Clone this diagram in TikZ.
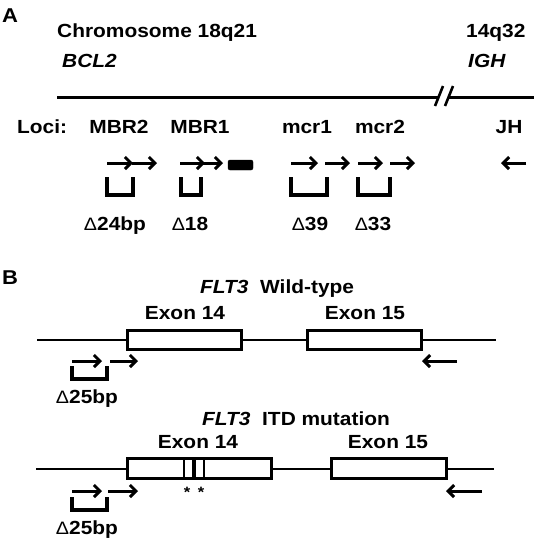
\documentclass[tikz,border=0pt]{standalone}
\usepackage{fontspec}
\setmainfont{Liberation Sans}[FakeStretch=1.1]
\usetikzlibrary{arrows.meta}
\tikzset{
  lbl/.style={font=\fontsize{19}{21}\selectfont\bfseries, inner sep=0pt, anchor=base},
  ilbl/.style={font=\fontsize{19}{21}\selectfont\bfseries\itshape, inner sep=0pt, anchor=base},
  panel/.style={font=\fontsize{20}{22}\selectfont\bfseries, inner sep=0pt, anchor=base west},
  dlbl/.style={font=\fontsize{19}{21}\selectfont\bfseries, inner sep=0pt, anchor=base},
  chrom/.style={line width=3pt},
  primer/.style={line width=3pt, -{Straight Barb[length=6pt,width=12pt]}},
  brk/.style={line width=4pt, line join=miter},
  exon/.style={draw, line width=3pt, fill=white},
  star/.style={font=\fontsize{15}{15}\selectfont\bfseries, inner sep=0pt}
}
\newcommand{\dl}{{\mdseries\fontsize{18}{21}\selectfont\symbol{"0394}}}
\begin{document}
\begin{tikzpicture}[x=1pt,y=-1pt]
\useasboundingbox (0,0) rectangle (538,542);
% ---------- Panel A ----------
\node[panel] (A) at (2,22) {A};
\node[lbl, anchor=base west] (chr) at (57,37) {Chromosome 18q21};
\node[lbl, anchor=base west] (c14) at (466,37) {14q32};
\node[ilbl, anchor=base west] (bcl) at (62,67) {BCL2};
\node[ilbl, anchor=base west] (igh) at (468,67) {IGH};
\coordinate (la) at (57,97);
\coordinate (lb) at (439,97);
\coordinate (lc) at (449,97);
\coordinate (ld) at (534,97);
\draw[chrom] (la) -- (lb);
\draw[chrom] (lc) -- (ld);
\coordinate (s1a) at (435,106); \coordinate (s1b) at (443,86);
\coordinate (s2a) at (445,106); \coordinate (s2b) at (453,86);
\draw[line width=2.6pt] (s1a) -- (s1b);
\draw[line width=2.6pt] (s2a) -- (s2b);
\node[lbl, anchor=base west] (loci) at (17,133) {Loci:};
\node[lbl] (mbr2) at (119,133) {MBR2};
\node[lbl] (mbr1) at (200,133) {MBR1};
\node[lbl] (mcr1) at (307,133) {mcr1};
\node[lbl] (mcr2) at (380,133) {mcr2};
\node[lbl] (jh) at (509,133) {JH};
% primers panel A
\foreach \n/\a/\b in {a1/107/133, a2/132/157, a3/180/205, a4/200/223, a5/291/318, a6/325/350, a7/358/383, a8/390/415, a9/526/501}{
  \coordinate (p\n s) at (\a,163);
  \coordinate (p\n e) at (\b,163);
  \draw[primer] (p\n s) -- (p\n e);
}
\node[draw, fill=black, rounded corners=2pt, minimum width=25pt, minimum height=10pt, inner sep=0pt] (blk) at (240.5,165) {};
% brackets panel A
\foreach \n/\a/\b in {b1/107/133, b2/181/201, b3/291/327, b4/358/390}{
  \coordinate (q\n l) at (\a,177);
  \coordinate (q\n r) at (\b,177);
  \draw[brk] (q\n l) |- (\b,195) -- (q\n r);
}
\node[dlbl] (d24) at (115,230) {\dl24bp};
\node[dlbl] (d18) at (190,230) {\dl18};
\node[dlbl] (d39) at (310,230) {\dl39};
\node[dlbl] (d33) at (373,230) {\dl33};
% ---------- Panel B: wild-type ----------
\node[panel] (B) at (2,284) {B};
\node[lbl, anchor=base west] (wt) at (200,293) {\textit{FLT3}\ \ Wild-type};
\node[lbl] (e14w) at (185,319) {Exon 14};
\node[lbl] (e15w) at (365,319) {Exon 15};
\coordinate (wl) at (37,340);
\coordinate (wr) at (496,340);
\draw[line width=2.7pt] (wl) -- (wr);
\draw[exon] (127.5,330) rectangle (241.5,349.5);
\draw[exon] (307.5,330) rectangle (421.5,349.5);
\foreach \n/\a/\b in {w1/72/102, w2/110/138, w3/457/422}{
  \coordinate (p\n s) at (\a,361);
  \coordinate (p\n e) at (\b,361);
  \draw[primer] (p\n s) -- (p\n e);
}
\coordinate (wbl) at (72,366);
\coordinate (wbr) at (107,366);
\draw[brk] (wbl) |- (107,379) -- (wbr);
\node[dlbl] (d25w) at (87,403) {\dl25bp};
% ---------- Panel B: ITD ----------
\node[lbl, anchor=base west] (itd) at (202,425) {\textit{FLT3}\ \ ITD mutation};
\node[lbl] (e14i) at (198,448) {Exon 14};
\node[lbl] (e15i) at (388,448) {Exon 15};
\coordinate (il) at (36,469);
\coordinate (ir) at (494,469);
\draw[line width=2.7pt] (il) -- (ir);
\draw[exon] (127.5,458) rectangle (271.5,478);
\draw[exon] (331.5,458) rectangle (446.5,478);
\draw[line width=1.8pt] (184,458) -- (184,478);
\draw[line width=3.2pt] (194,458) -- (194,478);
\draw[line width=1.8pt] (204,458) -- (204,478);
\node[star] (st1) at (187,492) {*};
\node[star] (st2) at (201,492) {*};
\foreach \n/\a/\b in {i1/72/102, i2/108/138, i3/482/446}{
  \coordinate (p\n s) at (\a,491);
  \coordinate (p\n e) at (\b,491);
  \draw[primer] (p\n s) -- (p\n e);
}
\coordinate (ibl) at (72,497);
\coordinate (ibr) at (107,497);
\draw[brk] (ibl) |- (107,510) -- (ibr);
\node[dlbl] (d25i) at (87,534) {\dl25bp};
\end{tikzpicture}
\end{document}
